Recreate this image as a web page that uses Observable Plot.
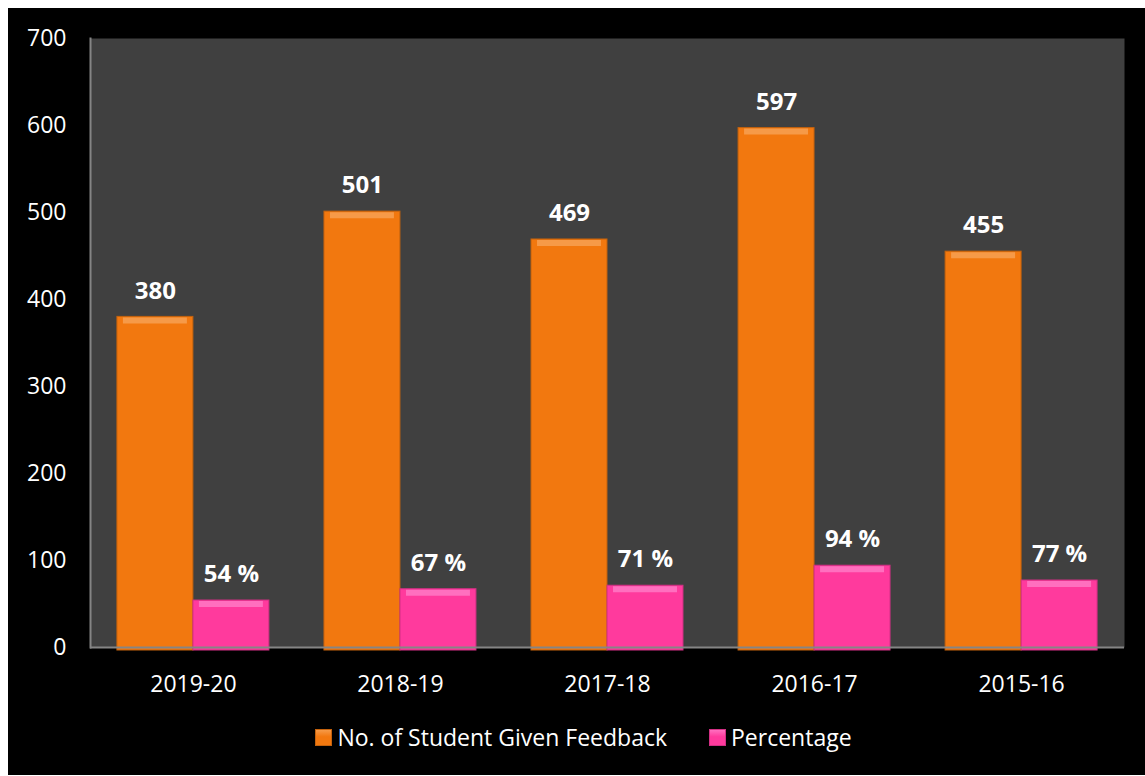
<!DOCTYPE html>
<html>
<head>
<meta charset="utf-8">
<script src="https://cdn.jsdelivr.net/npm/d3@7"></script>
<script src="https://cdn.jsdelivr.net/npm/@observablehq/plot@0.6"></script>
<style>
  body { margin: 8px 0 0 8px; background: #ffffff; }
  #chart { width: 1137px; height: 767px; background: #000000; font-family: "Open Sans", sans-serif; }
  #legend { height: 58px; display: flex; align-items: center; justify-content: center; padding-left: 14px; color: #ffffff; font-size: 23px; }
  .item { display: flex; align-items: center; }
  .sw { width: 17px; height: 17px; margin-right: 5px; box-sizing: border-box; }
</style>
</head>
<body>
<div id="chart"></div>
<script>
const years = ["2019-20", "2018-19", "2017-18", "2016-17", "2015-16"];
const students = [380, 501, 469, 597, 455];
const percentages = [54, 67, 71, 94, 77];
const seriesNames = ["No. of Student Given Feedback", "Percentage"];
const seriesColors = ["#f2780f", "#ff3a9d"];
const highlightColors = ["#f69a48", "#ff6fbf"];
const edgeColors = ["#c4620d", "#d22f84"];

const data = years.map((year, i) => ({year, students: students[i], pct: percentages[i]}));

const svg = Plot.plot({
  width: 1137,
  height: 700,
  marginLeft: 82,
  marginRight: 21,
  marginTop: 30,
  marginBottom: 61,
  style: {background: "transparent", color: "#ffffff", fontFamily: "Open Sans, sans-serif", fontSize: "23px", overflow: "visible"},
  x: {domain: years, paddingInner: 0.266, paddingOuter: 0.13, round: false, label: null},
  y: {domain: [0, 700], ticks: d3.range(0, 701, 100), label: null},
  marks: [
    Plot.frame({fill: "#404040", stroke: null}),
    Plot.barY(data, {x: "year", y: "students", fill: seriesColors[0], stroke: edgeColors[0], strokeWidth: 1, insetRight: 76, insetBottom: -3}),
    Plot.tickY(data, {x: "year", y: "students", stroke: highlightColors[0], strokeWidth: 6, dy: 3.5, insetLeft: 6, insetRight: 82}),
    Plot.barY(data, {x: "year", y: "pct", fill: seriesColors[1], stroke: edgeColors[1], strokeWidth: 1, insetLeft: 76, insetBottom: -3}),
    Plot.tickY(data, {x: "year", y: "pct", stroke: highlightColors[1], strokeWidth: 6, dy: 3.5, insetLeft: 82, insetRight: 6}),
    Plot.ruleY([0], {stroke: "#858585", strokeWidth: 2}),
    Plot.frame({anchor: "left", stroke: "#858585", strokeWidth: 2}),
    Plot.axisY({tickSize: 0, tickPadding: 24, fontSize: 23, ticks: d3.range(0, 701, 100)}),
    Plot.axisX({tickSize: 0, tickPadding: 28, fontSize: 23}),
    Plot.text(data, {x: "year", y: "students", text: d => String(d.students), dx: -38, dy: -26, fill: "#ffffff", fontWeight: "bold", fontSize: 24}),
    Plot.text(data, {x: "year", y: "pct", text: d => d.pct + " %", dx: 38, dy: -26, fill: "#ffffff", fontWeight: "bold", fontSize: 24})
  ]
});

const chart = document.getElementById("chart");
chart.appendChild(svg);

const legend = document.createElement("div");
legend.id = "legend";
seriesNames.forEach((name, i) => {
  const item = document.createElement("div");
  item.className = "item";
  if (i > 0) item.style.marginLeft = "42px";
  const sw = document.createElement("span");
  sw.className = "sw";
  sw.style.background = `linear-gradient(${highlightColors[i]} 0%, ${seriesColors[i]} 45%, ${seriesColors[i]} 100%)`;
  sw.style.border = `1px solid ${edgeColors[i]}`;
  const label = document.createElement("span");
  label.textContent = name;
  item.appendChild(sw);
  item.appendChild(label);
  legend.appendChild(item);
});
chart.appendChild(legend);
</script>
</body>
</html>
